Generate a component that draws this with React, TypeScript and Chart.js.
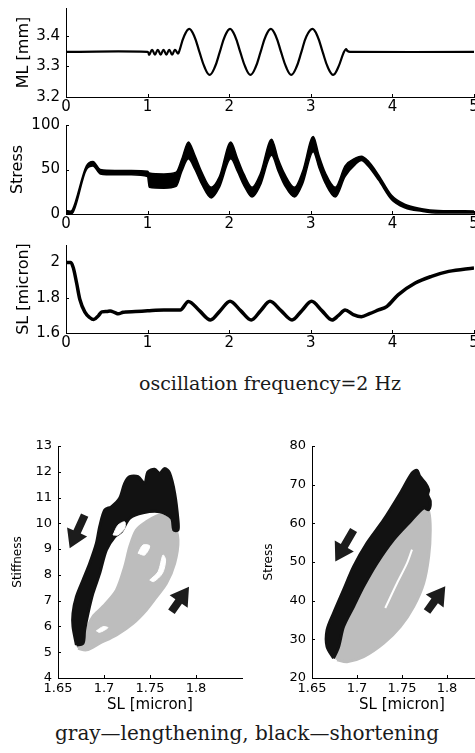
import React, { useEffect, useRef } from "react";
import { Chart, registerables } from "chart.js";
Chart.register(...registerables);
Chart.defaults.font.family = "DejaVu Sans";
Chart.defaults.color = "#000";

// ---------- Top panels: time series (time in s) ----------
const TIME_TICKS = [0, 1, 2, 3, 4, 5];

const ML_T = [0, 1.0, 1.02, 1.055, 1.09, 1.125, 1.16, 1.195, 1.23, 1.265, 1.3, 1.335, 1.37, 1.385, 1.447, 1.51, 1.572, 1.635, 1.7, 1.76, 1.822, 1.885, 1.947, 2.01, 2.072, 2.135, 2.2, 2.26, 2.322, 2.385, 2.447, 2.51, 2.572, 2.635, 2.7, 2.76, 2.822, 2.885, 2.947, 3.02, 3.082, 3.145, 3.21, 3.275, 3.335, 3.4, 3.43, 3.45, 3.48, 5.0];
const ML_V = [3.347, 3.347, 3.338, 3.354, 3.338, 3.354, 3.338, 3.354, 3.338, 3.354, 3.338, 3.354, 3.342, 3.347, 3.398, 3.422, 3.398, 3.347, 3.296, 3.272, 3.296, 3.347, 3.398, 3.422, 3.398, 3.347, 3.296, 3.272, 3.296, 3.347, 3.398, 3.422, 3.398, 3.347, 3.296, 3.272, 3.296, 3.347, 3.398, 3.422, 3.398, 3.347, 3.296, 3.272, 3.296, 3.343, 3.356, 3.35, 3.347, 3.347];
const ML_TICKS = [3.2, 3.3, 3.4];

const STRESS_T = [0, 0.05, 0.08, 0.25, 0.33, 0.42, 0.6, 0.8, 1.0, 1.02, 1.2, 1.35, 1.42, 1.5, 1.58, 1.66, 1.78, 1.88, 2.02, 2.1, 2.18, 2.28, 2.38, 2.52, 2.6, 2.68, 2.8, 2.9, 3.03, 3.1, 3.18, 3.3, 3.42, 3.55, 3.62, 3.7, 3.83, 3.99, 4.15, 4.36, 4.56, 5.0];
const STRESS_LO = [0, 0, 1, 50, 54, 45, 44, 44, 42, 30, 29, 31, 48, 62, 50, 34, 18, 30, 62, 48, 32, 19, 32, 66, 48, 32, 19, 34, 70, 52, 34, 19, 42, 56, 60, 54, 38, 16, 7, 3, 1, 1];
const STRESS_HI = [4, 3, 5, 54, 59, 50, 49, 49, 48, 46, 45, 47, 62, 81, 66, 48, 30, 42, 81, 63, 45, 30, 45, 84, 62, 45, 30, 48, 87, 66, 46, 30, 54, 63, 65, 60, 44, 21, 11, 6, 4, 3.5];
const STRESS_TICKS = [0, 50, 100];

const SL_T = [0, 0.06, 0.09, 0.13, 0.17, 0.23, 0.29, 0.34, 0.4, 0.44, 0.5, 0.54, 0.6, 0.64, 0.7, 0.74, 0.85, 1.0, 1.2, 1.4, 1.5, 1.635, 1.77, 1.89, 2.01, 2.14, 2.27, 2.385, 2.5, 2.635, 2.77, 2.89, 3.01, 3.135, 3.26, 3.34, 3.42, 3.52, 3.62, 3.72, 3.83, 3.93, 4.07, 4.28, 4.48, 4.69, 5.0];
const SL_V = [2.0, 2.0, 1.97, 1.884, 1.79, 1.72, 1.688, 1.676, 1.7, 1.72, 1.722, 1.725, 1.716, 1.709, 1.718, 1.72, 1.722, 1.726, 1.73, 1.73, 1.779, 1.727, 1.674, 1.727, 1.781, 1.727, 1.674, 1.727, 1.78, 1.727, 1.674, 1.727, 1.78, 1.727, 1.674, 1.7, 1.731, 1.705, 1.693, 1.71, 1.731, 1.75, 1.817, 1.884, 1.922, 1.95, 1.97];
const SL_TICKS = [1.6, 1.8, 2];

// ---------- Bottom panels: loops vs SL [micron] ----------
const SL_LOOP_TICKS = [1.65, 1.7, 1.75, 1.8];
const STIFF_TICKS = [4, 5, 6, 7, 8, 9, 10, 11, 12, 13];
const LOOP_STRESS_TICKS = [20, 30, 40, 50, 60, 70, 80];

// stiffness, black = shortening
const STIFF_BLACK_SL = [1.67, 1.6663, 1.6663, 1.67, 1.6772, 1.6845, 1.6917, 1.6953, 1.7008, 1.708, 1.717, 1.7225, 1.728, 1.737, 1.7442, 1.7478, 1.755, 1.7605, 1.766, 1.7714, 1.7768, 1.7804, 1.7804, 1.7758, 1.7733, 1.7605, 1.7424, 1.728, 1.719, 1.7116, 1.7026, 1.6953, 1.688, 1.6826, 1.679, 1.6772];
const STIFF_BLACK_K = [5.28, 5.99, 6.51, 7.15, 7.8, 8.45, 9.22, 9.87, 10.52, 10.64, 10.97, 11.55, 11.81, 11.81, 11.55, 12.0, 12.1, 11.94, 12.13, 11.94, 11.17, 10.13, 9.74, 9.74, 10.2, 10.45, 10.41, 10.2, 9.68, 9.48, 8.97, 8.06, 7.29, 6.51, 5.86, 5.35];
const STIFF_BLACK_HOLE_SL = [1.7098, 1.7152, 1.7225, 1.7225, 1.7152];
const STIFF_BLACK_HOLE_K = [9.55, 9.93, 10.06, 9.81, 9.55];
// stiffness, gray = lengthening
const STIFF_GRAY_SL = [1.6717, 1.6809, 1.6953, 1.7135, 1.7315, 1.746, 1.757, 1.7678, 1.7768, 1.7804, 1.775, 1.7624, 1.757, 1.746, 1.7352, 1.728, 1.7225, 1.7135, 1.6989, 1.688, 1.6826, 1.6809];
const STIFF_GRAY_K = [5.15, 5.09, 5.35, 5.67, 6.12, 6.64, 7.15, 7.67, 8.45, 9.35, 10.0, 10.32, 10.28, 10.06, 9.74, 9.09, 8.32, 7.41, 6.77, 6.38, 5.99, 5.6];
const STIFF_GRAY_HOLE1_SL = [1.737, 1.7424, 1.7497, 1.7442];
const STIFF_GRAY_HOLE1_K = [8.84, 9.16, 9.12, 8.77];
const STIFF_GRAY_HOLE2_SL = [1.7497, 1.7587, 1.7641, 1.767, 1.7635, 1.754];
const STIFF_GRAY_HOLE2_K = [7.8, 8.12, 8.77, 8.58, 8.06, 7.74];
const STIFF_GRAY_HOLE3_SL = [1.6917, 1.6989, 1.7043, 1.6953];
const STIFF_GRAY_HOLE3_K = [5.83, 5.99, 5.95, 5.77];
// arrows [tailSL, tailY, tipSL, tipY]
const STIFF_ARROWS = [[1.679, 10.32, 1.6627, 9.03], [1.7733, 6.57, 1.7924, 7.54]];

// stress loop
const STRESS_BLACK_SL = [1.674, 1.6667, 1.6667, 1.674, 1.6851, 1.6962, 1.7111, 1.7296, 1.7481, 1.7611, 1.7667, 1.7696, 1.7759, 1.7796, 1.7785, 1.7814, 1.7796, 1.774, 1.7592, 1.7407, 1.7222, 1.7073, 1.6962, 1.6851, 1.6796];
const STRESS_BLACK_S = [25.1, 28.1, 32.4, 36.8, 42.8, 48.8, 54.9, 60.9, 67.8, 73.0, 73.7, 72.2, 70.4, 68.7, 67.4, 65.7, 63.5, 64.0, 60.5, 55.8, 49.7, 43.7, 38.5, 33.3, 28.1];
const STRESS_GRAY_SL = [1.6778, 1.6889, 1.7073, 1.7296, 1.7481, 1.7629, 1.774, 1.7796, 1.7814, 1.7796, 1.7748, 1.7592, 1.7407, 1.7222, 1.7073, 1.6962, 1.6851, 1.6796];
const STRESS_GRAY_S = [24.7, 24.2, 25.5, 29.0, 33.3, 38.5, 44.5, 51.4, 58.3, 63.1, 64.0, 60.5, 55.8, 49.7, 43.7, 38.5, 33.3, 28.1];
const STRESS_STREAK_SL = [1.7314, 1.7444, 1.7556, 1.7611];
const STRESS_STREAK_S = [38.1, 44.5, 49.7, 53.2];
const STRESS_ARROWS = [[1.6962, 58.3, 1.6759, 50.1], [1.7778, 37.2, 1.7981, 43.7]];

const BLACK = "#121212";
const GRAY = "#bdbdbd";

const pts = (xs: number[], ys: number[], close = false) => {
  const p = xs.map((x, i) => ({ x, y: ys[i] }));
  if (close) p.push({ ...p[0] });
  return p;
};

const inTicks = {
  id: "inTicks",
  afterDraw(chart: any) {
    const { ctx, chartArea } = chart;
    const xs = chart.scales.x;
    const ys = chart.scales.y;
    ctx.save();
    ctx.strokeStyle = "#000";
    ctx.lineWidth = 1;
    xs.ticks.forEach((t: any) => {
      const px = Math.round(xs.getPixelForValue(t.value)) + 0.5;
      ctx.beginPath();
      ctx.moveTo(px, chartArea.bottom);
      ctx.lineTo(px, chartArea.bottom - 3);
      ctx.stroke();
    });
    ys.ticks.forEach((t: any) => {
      const py = Math.round(ys.getPixelForValue(t.value)) + 0.5;
      ctx.beginPath();
      ctx.moveTo(chartArea.left, py);
      ctx.lineTo(chartArea.left + 3, py);
      ctx.stroke();
    });
    ctx.restore();
  },
};

const arrowPlugin = (arrows: number[][]) => ({
  id: "arrows",
  afterDatasetsDraw(chart: any) {
    const { ctx } = chart;
    const xs = chart.scales.x;
    const ys = chart.scales.y;
    ctx.save();
    ctx.fillStyle = "#1c1c1c";
    arrows.forEach(([x1, y1, x2, y2]) => {
      const ax = xs.getPixelForValue(x1), ay = ys.getPixelForValue(y1);
      const bx = xs.getPixelForValue(x2), by = ys.getPixelForValue(y2);
      const len = Math.hypot(bx - ax, by - ay);
      const ux = (bx - ax) / len, uy = (by - ay) / len;
      const nx = -uy, ny = ux;
      const head = 18, hw = 11, sw = 4;
      const hx = bx - ux * head, hy = by - uy * head;
      ctx.beginPath();
      ctx.moveTo(ax + nx * sw, ay + ny * sw);
      ctx.lineTo(hx + nx * sw, hy + ny * sw);
      ctx.lineTo(hx + nx * hw, hy + ny * hw);
      ctx.lineTo(bx, by);
      ctx.lineTo(hx - nx * hw, hy - ny * hw);
      ctx.lineTo(hx - nx * sw, hy - ny * sw);
      ctx.lineTo(ax - nx * sw, ay - ny * sw);
      ctx.closePath();
      ctx.fill();
    });
    ctx.restore();
  },
});

type Box = { left: number; top: number; w: number; h: number };
type Area = { left: number; top: number; right: number; bottom: number };

function buildOptions(box: Box, area: Area, o: any) {
  return {
    responsive: false,
    animation: false,
    events: [],
    layout: {
      autoPadding: false,
      padding: { left: 0, bottom: 0, top: area.top - box.top, right: box.left + box.w - area.right },
    },
    plugins: { legend: { display: false }, tooltip: { enabled: false } },
    scales: {
      x: {
        type: "linear",
        min: o.xmin,
        max: o.xmax,
        afterBuildTicks: (s: any) => { s.ticks = o.xticks.map((v: number) => ({ value: v })); },
        afterFit: (s: any) => {
          s.height = box.top + box.h - area.bottom;
          s.paddingLeft = 0; s.paddingRight = 0; s.paddingTop = 0; s.paddingBottom = 0;
        },
        grid: { display: false, drawTicks: false },
        border: { display: true, color: "#000", width: 1 },
        ticks: { font: { size: o.tickSize }, color: "#000", padding: o.xpad, maxRotation: 0, autoSkip: false, callback: (v: any) => String(v) },
        title: o.xtitle ? { display: true, text: o.xtitle, font: { size: o.xtitleSize }, color: "#000", padding: { top: 0, bottom: o.xtitlePad } } : { display: false },
      },
      y: {
        type: "linear",
        min: o.ymin,
        max: o.ymax,
        afterBuildTicks: (s: any) => { s.ticks = o.yticks.map((v: number) => ({ value: v })); },
        afterFit: (s: any) => {
          s.width = area.left - box.left;
          s.paddingLeft = 0; s.paddingRight = 0; s.paddingTop = 0; s.paddingBottom = 0;
        },
        grid: { display: false, drawTicks: false },
        border: { display: true, color: "#000", width: 1 },
        ticks: { font: { size: o.tickSize }, color: "#000", padding: o.ypad, autoSkip: false, callback: (v: any) => String(v) },
        title: { display: true, text: o.ytitle, font: { size: o.ytitleSize, family: o.ytitleFamily || "DejaVu Sans" }, color: "#000", padding: { top: o.ytitlePad, bottom: 0 } },
      },
    },
  };
}

function ChartBox({ box, make }: { box: Box; make: () => any }) {
  const ref = useRef<HTMLCanvasElement | null>(null);
  useEffect(() => {
    if (!ref.current) return;
    const chart = new Chart(ref.current, make());
    return () => chart.destroy();
  }, []);
  return (
    <canvas
      ref={ref}
      width={box.w}
      height={box.h}
      style={{ position: "absolute", left: box.left, top: box.top, width: box.w, height: box.h }}
    />
  );
}

const lineDs = (data: any[], extra: any = {}) => ({
  data,
  borderColor: "#000",
  backgroundColor: "#000",
  pointRadius: 0,
  fill: false,
  ...extra,
});

const shapeDs = (data: any[], color: string, bw = 3) => ({
  data,
  borderColor: color,
  backgroundColor: color,
  borderWidth: bw,
  borderJoinStyle: "round",
  pointRadius: 0,
  tension: 0.3,
  fill: "shape",
});

const topCommon = { xmin: 0, xmax: 5, xticks: TIME_TICKS, tickSize: 15, xpad: 1, ypad: 6, ytitleSize: 16 };

const P1_BOX = { left: 0, top: 0, w: 475, h: 114 };
const P1_AREA = { left: 66, top: 8, right: 474, bottom: 97 };
const P2_BOX = { left: 0, top: 114, w: 475, h: 120 };
const P2_AREA = { left: 66, top: 125, right: 474, bottom: 214 };
const P3_BOX = { left: 0, top: 234, w: 475, h: 120 };
const P3_AREA = { left: 66, top: 245, right: 474, bottom: 333 };
const P4_BOX = { left: 0, top: 430, w: 246, h: 290 };
const P4_AREA = { left: 58, top: 446, right: 242, bottom: 678 };
const P5_BOX = { left: 250, top: 430, w: 250, h: 290 };
const P5_AREA = { left: 312, top: 446, right: 492, bottom: 678 };

const botCommon = { xmin: 1.65, xmax: 1.85, xticks: SL_LOOP_TICKS, tickSize: 13, xpad: 3, ypad: 6, xtitle: "SL [micron]", xtitleSize: 15, xtitlePad: 6 };

export default function App() {
  return (
    <div style={{ position: "absolute", left: 0, top: 0, width: 475, height: 753, overflow: "hidden", background: "#fff" }}>
      <ChartBox
        box={P1_BOX}
        make={() => ({
          type: "line",
          data: { datasets: [lineDs(pts(ML_T, ML_V), { borderWidth: 2.2, tension: 0.4 })] },
          options: buildOptions(P1_BOX, P1_AREA, { ...topCommon, ymin: 3.2, ymax: 3.49, yticks: ML_TICKS, ytitle: "ML [mm]", ytitlePad: 14 }),
          plugins: [inTicks],
        })}
      />
      <ChartBox
        box={P2_BOX}
        make={() => ({
          type: "line",
          data: {
            datasets: [
              lineDs(pts(STRESS_T, STRESS_LO), { borderWidth: 1.5, cubicInterpolationMode: "monotone" }),
              lineDs(pts(STRESS_T, STRESS_HI), { borderWidth: 1.5, cubicInterpolationMode: "monotone", fill: "-1" }),
            ],
          },
          options: buildOptions(P2_BOX, P2_AREA, { ...topCommon, ymin: 0, ymax: 100, yticks: STRESS_TICKS, ytitle: "Stress", ytitlePad: 8 }),
          plugins: [inTicks],
        })}
      />
      <ChartBox
        box={P3_BOX}
        make={() => ({
          type: "line",
          data: { datasets: [lineDs(pts(SL_T, SL_V), { borderWidth: 3.5, cubicInterpolationMode: "monotone" })] },
          options: buildOptions(P3_BOX, P3_AREA, { ...topCommon, ymin: 1.6, ymax: 2.1, yticks: SL_TICKS, ytitle: "SL [micron]", ytitlePad: 14 }),
          plugins: [inTicks],
        })}
      />
      <div style={{ position: "absolute", left: 0, top: 371, width: 540, textAlign: "center", fontFamily: "DejaVu Serif", fontSize: 19, lineHeight: "24px", color: "#1a1a1a" }}>
        oscillation frequency=2 Hz
      </div>
      <ChartBox
        box={P4_BOX}
        make={() => ({
          type: "line",
          data: {
            datasets: [
              shapeDs(pts(STIFF_BLACK_HOLE_SL, STIFF_BLACK_HOLE_K, true), "#fff", 1),
              shapeDs(pts(STIFF_BLACK_SL, STIFF_BLACK_K, true), BLACK),
              shapeDs(pts(STIFF_GRAY_HOLE1_SL, STIFF_GRAY_HOLE1_K, true), "#fff", 1),
              shapeDs(pts(STIFF_GRAY_HOLE2_SL, STIFF_GRAY_HOLE2_K, true), "#fff", 1),
              shapeDs(pts(STIFF_GRAY_HOLE3_SL, STIFF_GRAY_HOLE3_K, true), "#fff", 1),
              shapeDs(pts(STIFF_GRAY_SL, STIFF_GRAY_K, true), GRAY),
            ],
          },
          options: buildOptions(P4_BOX, P4_AREA, { ...botCommon, ymin: 4, ymax: 13, yticks: STIFF_TICKS, ytitle: "Stiffness", ytitleSize: 12, ytitlePad: 11 }),
          plugins: [inTicks, arrowPlugin(STIFF_ARROWS)],
        })}
      />
      <ChartBox
        box={P5_BOX}
        make={() => ({
          type: "line",
          data: {
            datasets: [
              shapeDs(pts(STRESS_BLACK_SL, STRESS_BLACK_S, true), BLACK),
              lineDs(pts(STRESS_STREAK_SL, STRESS_STREAK_S), { borderColor: "#fff", borderWidth: 2, tension: 0.3 }),
              shapeDs(pts(STRESS_GRAY_SL, STRESS_GRAY_S, true), GRAY),
            ],
          },
          options: buildOptions(P5_BOX, P5_AREA, { ...botCommon, ymin: 20, ymax: 80, yticks: LOOP_STRESS_TICKS, ytitle: "Stress", ytitleSize: 12, ytitlePad: 12 }),
          plugins: [inTicks, arrowPlugin(STRESS_ARROWS)],
        })}
      />
      <div style={{ position: "absolute", left: 0, top: 720, width: 494, textAlign: "center", fontFamily: "DejaVu Serif", fontSize: 20, lineHeight: "26px", color: "#1a1a1a" }}>
        gray—lengthening, black—shortening
      </div>
    </div>
  );
}
